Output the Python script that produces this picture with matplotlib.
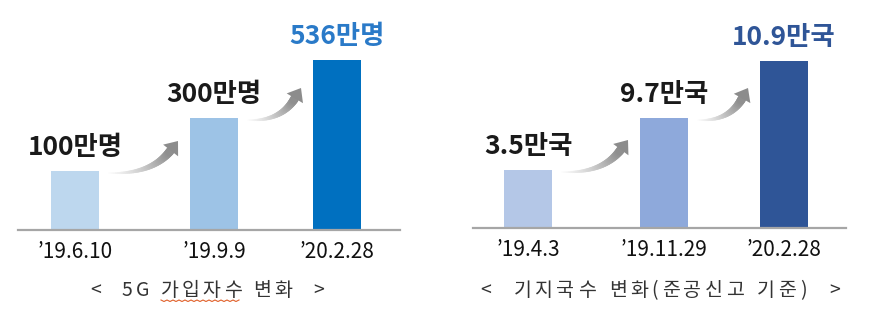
import numpy as np
import matplotlib
matplotlib.use("Agg")
import matplotlib.pyplot as plt
from matplotlib.collections import LineCollection
from matplotlib.patches import Polygon
from matplotlib.colors import to_rgb

plt.rcParams['font.family'] = ['Noto Sans CJK KR', 'DejaVu Sans']

# 5G subscribers
sub_dates = ["\u201919.6.10", "\u201919.9.9", "\u201920.2.28"]
sub_values = [100, 300, 536]
sub_bar_h = [59, 112, 170]          # drawn heights (chart is not to scale)
sub_colors = ['#BDD7EE', '#9DC3E6', '#0070C0']

# base stations
bs_dates = ["\u201919.4.3", "\u201919.11.29", "\u201920.2.28"]
bs_values = [3.5, 9.7, 10.9]
bs_bar_h = [58, 110, 167]
bs_colors = ['#B4C7E7', '#8EA9DB', '#2F5597']

W, H = 882, 327
fig = plt.figure(figsize=(W / 100, H / 100), dpi=100)
fig.patch.set_facecolor('white')


def grad_arrow(ax, p0, tip):
    p0 = np.array(p0, float)
    tip = np.array(tip, float)
    d = tip - p0
    ctrl = p0 + np.array([0.62 * d[0], -0.05 * d[1]])
    u = tip - ctrl
    u = u / np.hypot(*u)
    base = tip - 12 * u
    t = np.linspace(0, 1, 40)
    pts = ((1 - t)[:, None] ** 2) * p0 + (2 * (1 - t) * t)[:, None] * ctrl + (t[:, None] ** 2) * base
    segs = np.stack([pts[:-1], pts[1:]], axis=1)
    c0, c1 = np.array(to_rgb('#fafafa')), np.array(to_rgb('#8c8c8c'))
    cols = [tuple(c0 + (c1 - c0) * s) for s in t[:-1] ** 1.1]
    lws = 0.8 + 5.6 * t[:-1]
    ax.add_collection(LineCollection(segs, colors=cols, linewidths=lws,
                                     capstyle='round', zorder=2))
    n = np.array([-u[1], u[0]])
    head = [tip, base + 9.5 * n, base - 9.5 * n]
    ax.add_patch(Polygon(head, closed=True, color='#8c8c8c', lw=0, zorder=3))


def panel(rect_px, base_y, xs, hs, colors, dates, labels, last_color):
    x0, x1 = rect_px
    ax = fig.add_axes([x0 / W, (H - base_y) / H, (x1 - x0) / W, 220 / H])
    ax.set_xlim(x0, x1)
    ax.set_ylim(0, 220)
    ax.bar(xs, hs, width=48, color=colors, zorder=1)
    for s in ['top', 'right', 'left']:
        ax.spines[s].set_visible(False)
    ax.spines['bottom'].set_color('#A6A6A6')
    ax.spines['bottom'].set_linewidth(1.6)
    ax.set_xticks([])
    ax.set_yticks([])
    ax.patch.set_alpha(0)
    for i, (x, h) in enumerate(zip(xs, hs)):
        col = last_color if i == len(xs) - 1 else '#1a1a1a'
        ax.text(x, h + 16, labels[i], ha='center', va='baseline',
                fontsize=19, fontweight='bold', color=col, clip_on=False)
        ax.text(x, -28, dates[i], ha='center', va='baseline',
                fontsize=15, fontweight='medium', color='#111111', clip_on=False)
    for i in range(len(xs) - 1):
        grad_arrow(ax, (xs[i] + 24 + 10, hs[i] - 2), (xs[i + 1] - 24 - 12, hs[i] + 30))
    return ax


panel((18, 400), 230, [75, 214, 337], sub_bar_h, sub_colors, sub_dates,
      [f"{v}만명" for v in sub_values], '#2A7AC8')
panel((473, 846), 228, [528, 664, 784], bs_bar_h, bs_colors, bs_dates,
      [f"{v}만국" for v in bs_values], '#2F5597')

renderer = fig.canvas.get_renderer()


def tracked(cx, y, s, size, track):
    widths = []
    for ch in s:
        if ch == ' ':
            widths.append(size * 1.39 * 0.3)
            continue
        t = fig.text(0, 0, ch, fontsize=size)
        widths.append(t.get_window_extent(renderer).width)
        t.remove()
    total = sum(widths) + track * (len(s) - 1)
    x = cx - total / 2
    ext = []
    for ch, w in zip(s, widths):
        if ch != ' ':
            fig.text(x / W, 1 - y / H, ch, fontsize=size, color='#333333',
                     ha='left', va='baseline')
        ext.append((x, x + w))
        x += w + track
    return ext


ext = tracked(207, 296, "<  5G 가입자수 변화  >", 14, 3)
ux0, ux1 = ext[6][0], ext[9][1]
xx = np.arange(ux0, ux1, 3.0)
yy = 300 + np.where(np.arange(len(xx)) % 2 == 0, 0, 1.5)
fig.add_artist(plt.Line2D(xx / W, 1 - yy / H, color='#E0602A', lw=0.8))

tracked(660, 296, "<  기지국수 변화(준공신고 기준)  >", 14, 3.6)

fig.savefig('out.png', dpi=100, facecolor='white')
